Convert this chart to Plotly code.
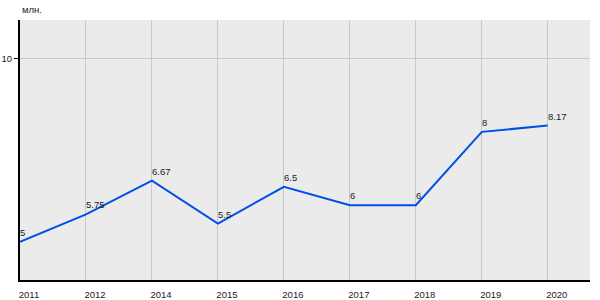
import plotly.graph_objects as go

years = ["2011", "2012", "2014", "2015", "2016", "2017", "2018", "2019", "2020"]
values = [5, 5.75, 6.67, 5.5, 6.5, 6, 6, 8, 8.17]
labels = ["5", "5.75", "6.67", "5.5", "6.5", "6", "6", "8", "8.17"]
y_ticks = [10]
unit = "млн."

FONT = "Liberation Sans, Arial, sans-serif"
FS = 9.5

fig = go.Figure()
xs = list(range(len(years)))
fig.add_trace(go.Scatter(
    x=xs, y=values, mode="lines",
    line=dict(color="#0050e6", width=2),
    cliponaxis=False, hoverinfo="skip",
))

annotations = [dict(
    text=t, x=x, y=v, xref="x", yref="y",
    xanchor="left", yanchor="bottom", xshift=-2, yshift=2,
    showarrow=False, font=dict(family=FONT, size=FS, color="#222"),
) for x, v, t in zip(xs, values, labels)]
annotations.append(dict(
    text=unit, xref="paper", yref="paper", x=0, y=1,
    xanchor="left", yanchor="bottom", yshift=3, showarrow=False,
    font=dict(family=FONT, size=FS, color="#222"),
))

fig.update_layout(
    template="none",
    width=600, height=300,
    margin=dict(l=20, r=10, t=20, b=20),
    paper_bgcolor="white", plot_bgcolor="#ebebeb",
    showlegend=False,
    font=dict(family=FONT, size=FS, color="#222"),
    xaxis=dict(
        range=[0, 8.64], tickmode="array",
        tickvals=xs, ticktext=years, automargin=False,
        showgrid=True, gridcolor="#c8c8c8", gridwidth=1,
        showline=True, linecolor="black", linewidth=2,
        ticks="", ticklabelshift=9, ticklabelstandoff=5,
        zeroline=False, tickfont=dict(size=FS),
    ),
    yaxis=dict(
        range=[3.96, 11.05], tickmode="array", tickvals=y_ticks,
        automargin=False,
        showgrid=True, gridcolor="#c8c8c8", gridwidth=1,
        showline=True, linecolor="black", linewidth=2,
        ticks="outside", ticklen=4, tickcolor="black",
        zeroline=False, tickfont=dict(size=FS),
    ),
    annotations=annotations,
)

fig.write_html("out.html")
